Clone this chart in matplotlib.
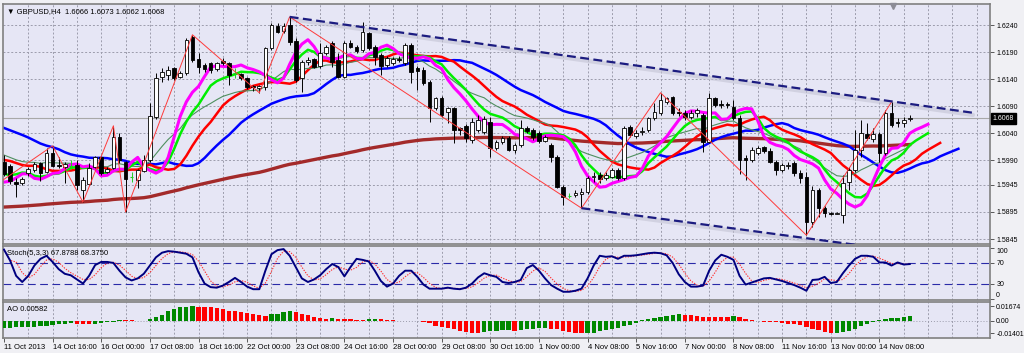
import numpy as np
import matplotlib
matplotlib.use("Agg")
import matplotlib.pyplot as plt

plt.rcParams['font.family'] = ['Liberation Sans', 'DejaVu Sans']

# GBPUSD H4 candles, 11 Oct 2013 08:00 .. 15 Nov 2013 04:00
opens = [1.5987, 1.5980, 1.5951, 1.5948, 1.5967, 1.5972, 1.5985, 1.5969, 1.6004, 1.5982,
         1.5978, 1.5980, 1.5982, 1.5935, 1.5947, 1.5978, 1.5996, 1.5969, 1.5976, 1.6033,
         1.5987, 1.5959, 1.5954, 1.5971, 1.5991, 1.6070, 1.6144, 1.6148, 1.6161, 1.6144,
         1.6151, 1.6218, 1.6177, 1.6166, 1.6170, 1.6159, 1.6174, 1.6170, 1.6151, 1.6150,
         1.6142, 1.6127, 1.6124, 1.6126, 1.6198, 1.6238, 1.6229, 1.6240, 1.6211, 1.6142,
         1.6172, 1.6177, 1.6164, 1.6188, 1.6207, 1.6175, 1.6144, 1.6207, 1.6199, 1.6194,
         1.6225, 1.6199, 1.6185, 1.6166, 1.6170, 1.6178, 1.6170, 1.6203, 1.6161, 1.6157,
         1.6135, 1.6087, 1.6105, 1.6079, 1.6087, 1.6050, 1.6054, 1.6028, 1.6046, 1.6043,
         1.6061, 1.6013, 1.6024, 1.6031, 1.6009, 1.6019, 1.6050, 1.6046, 1.6041, 1.6026,
         1.6019, 1.5996, 1.5941, 1.5925, 1.5926, 1.5929, 1.5932, 1.5959, 1.5963, 1.5958,
         1.5959, 1.5972, 1.5958, 1.6052, 1.6035, 1.6043, 1.6046, 1.6068, 1.6078, 1.6098,
         1.6107, 1.6079, 1.6078, 1.6070, 1.6078, 1.6074, 1.6024, 1.6105, 1.6094, 1.6094,
         1.6089, 1.6068, 1.5995, 1.5991, 1.6004, 1.6015, 1.6007, 1.5987, 1.5972, 1.5980,
         1.5985, 1.5967, 1.5959, 1.5876, 1.5935, 1.5902, 1.5893, 1.5892, 1.5889, 1.5950,
         1.5972, 1.6009, 1.6039, 1.6030, 1.6039, 1.6004, 1.6078, 1.6061, 1.6059, 1.6066]
highs = [1.6000, 1.5983, 1.5958, 1.5959, 1.5978, 1.5987, 1.5987, 1.6013, 1.6017, 1.5996,
         1.5987, 1.5991, 1.5991, 1.5959, 1.5985, 1.5998, 1.5998, 1.5978, 1.6054, 1.6041,
         1.5989, 1.5969, 1.5974, 1.6000, 1.6096, 1.6151, 1.6161, 1.6164, 1.6163, 1.6155,
         1.6216, 1.6222, 1.6188, 1.6170, 1.6172, 1.6172, 1.6179, 1.6172, 1.6161, 1.6151,
         1.6144, 1.6129, 1.6129, 1.6199, 1.6244, 1.6244, 1.6244, 1.6255, 1.6216, 1.6175,
         1.6181, 1.6179, 1.6207, 1.6203, 1.6211, 1.6188, 1.6211, 1.6212, 1.6203, 1.6245,
         1.6227, 1.6203, 1.6188, 1.6183, 1.6181, 1.6183, 1.6207, 1.6207, 1.6164, 1.6163,
         1.6139, 1.6107, 1.6109, 1.6089, 1.6089, 1.6052, 1.6057, 1.6068, 1.6074, 1.6072,
         1.6070, 1.6028, 1.6035, 1.6035, 1.6022, 1.6065, 1.6054, 1.6050, 1.6044, 1.6037,
         1.6022, 1.6000, 1.5945, 1.5930, 1.5935, 1.5939, 1.5961, 1.5969, 1.5969, 1.5969,
         1.5976, 1.5976, 1.6054, 1.6055, 1.6046, 1.6052, 1.6070, 1.6096, 1.6115, 1.6107,
         1.6109, 1.6087, 1.6083, 1.6083, 1.6087, 1.6078, 1.6115, 1.6107, 1.6102, 1.6098,
         1.6102, 1.6074, 1.6000, 1.6015, 1.6017, 1.6017, 1.6013, 1.5991, 1.5985, 1.5987,
         1.5989, 1.5972, 1.5969, 1.5943, 1.5939, 1.5906, 1.5895, 1.5895, 1.5963, 1.5978,
         1.6046, 1.6065, 1.6059, 1.6050, 1.6043, 1.6083, 1.6098, 1.6068, 1.6070, 1.6073]
lows = [1.5961, 1.5947, 1.5923, 1.5945, 1.5961, 1.5969, 1.5952, 1.5967, 1.5978, 1.5976,
        1.5948, 1.5976, 1.5935, 1.5913, 1.5945, 1.5976, 1.5963, 1.5967, 1.5974, 1.5985,
        1.5895, 1.5950, 1.5939, 1.5969, 1.5987, 1.6067, 1.6135, 1.6139, 1.6139, 1.6142,
        1.6148, 1.6172, 1.6151, 1.6153, 1.6151, 1.6155, 1.6166, 1.6129, 1.6142, 1.6139,
        1.6122, 1.6118, 1.6115, 1.6120, 1.6194, 1.6225, 1.6225, 1.6203, 1.6135, 1.6116,
        1.6166, 1.6161, 1.6161, 1.6185, 1.6163, 1.6142, 1.6142, 1.6198, 1.6188, 1.6190,
        1.6194, 1.6166, 1.6148, 1.6163, 1.6166, 1.6172, 1.6166, 1.6133, 1.6120, 1.6129,
        1.6061, 1.6083, 1.6070, 1.6059, 1.6022, 1.6037, 1.6024, 1.6022, 1.6043, 1.6039,
        1.5996, 1.6009, 1.6020, 1.6007, 1.6004, 1.6015, 1.6041, 1.6028, 1.6022, 1.6024,
        1.5987, 1.5939, 1.5908, 1.5921, 1.5923, 1.5902, 1.5928, 1.5950, 1.5948, 1.5954,
        1.5958, 1.5954, 1.5954, 1.6033, 1.6031, 1.6037, 1.6043, 1.6065, 1.6074, 1.6094,
        1.6074, 1.6072, 1.6065, 1.6067, 1.6070, 1.6006, 1.6022, 1.6089, 1.6087, 1.6087,
        1.6065, 1.5965, 1.5954, 1.5987, 1.6000, 1.6004, 1.5985, 1.5963, 1.5969, 1.5974,
        1.5961, 1.5948, 1.5852, 1.5867, 1.5886, 1.5886, 1.5889, 1.5891, 1.5875, 1.5935,
        1.5969, 1.5996, 1.6028, 1.6024, 1.5987, 1.6000, 1.6052, 1.6052, 1.6052, 1.6062]
closes = [1.5965, 1.5952, 1.5947, 1.5956, 1.5974, 1.5983, 1.5967, 1.6004, 1.5980, 1.5980,
          1.5983, 1.5980, 1.5945, 1.5954, 1.5976, 1.5996, 1.5967, 1.5974, 1.6033, 1.5991,
          1.5956, 1.5959, 1.5972, 1.5991, 1.6072, 1.6142, 1.6153, 1.6157, 1.6142, 1.6151,
          1.6212, 1.6175, 1.6163, 1.6159, 1.6157, 1.6170, 1.6170, 1.6148, 1.6151, 1.6142,
          1.6126, 1.6126, 1.6127, 1.6198, 1.6240, 1.6227, 1.6238, 1.6209, 1.6139, 1.6172,
          1.6175, 1.6163, 1.6188, 1.6199, 1.6172, 1.6144, 1.6207, 1.6199, 1.6192, 1.6227,
          1.6198, 1.6181, 1.6164, 1.6179, 1.6177, 1.6176, 1.6203, 1.6153, 1.6155, 1.6133,
          1.6087, 1.6105, 1.6074, 1.6087, 1.6046, 1.6046, 1.6031, 1.6061, 1.6065, 1.6067,
          1.6013, 1.6024, 1.6031, 1.6009, 1.6019, 1.6050, 1.6044, 1.6033, 1.6026, 1.6033,
          1.5996, 1.5941, 1.5923, 1.5925, 1.5930, 1.5932, 1.5958, 1.5961, 1.5956, 1.5963,
          1.5972, 1.5958, 1.6050, 1.6037, 1.6041, 1.6044, 1.6068, 1.6079, 1.6102, 1.6105,
          1.6078, 1.6078, 1.6070, 1.6078, 1.6083, 1.6024, 1.6105, 1.6092, 1.6093, 1.6092,
          1.6068, 1.5991, 1.5991, 1.6009, 1.6013, 1.6007, 1.5987, 1.5972, 1.5982, 1.5982,
          1.5967, 1.5958, 1.5876, 1.5935, 1.5902, 1.5893, 1.5892, 1.5893, 1.5948, 1.5972,
          1.6009, 1.6041, 1.6031, 1.6039, 1.6004, 1.6078, 1.6055, 1.6060, 1.6065, 1.6068]

# median prices of the 8 bars before the visible window (feed the shifted averages)
pre_median = [1.6000, 1.5995, 1.5990, 1.5985, 1.5975, 1.5960, 1.5955, 1.5970]

stoch_main = [96, 75, 45, 33, 45, 65, 78, 84, 72, 58, 49, 46, 38, 30, 45, 66, 72, 72, 70, 55,
              42, 36, 40, 49, 65, 81, 90, 93, 92, 90, 88, 81, 52, 30, 23, 22, 26, 33, 41, 33,
              24, 19, 19, 55, 87, 95, 97, 84, 62, 40, 33, 38, 46, 58, 68, 62, 44, 62, 78, 76,
              73, 55, 35, 24, 30, 45, 55, 55, 43, 28, 20, 20, 20, 22, 20, 19, 22, 30, 42, 50,
              46, 43, 33, 31, 33, 37, 60, 66, 55, 40, 27, 20, 14, 14, 16, 20, 40, 65, 84, 82,
              83, 78, 84, 84, 85, 87, 89, 90, 89, 85, 70, 48, 33, 24, 24, 26, 55, 75, 86, 82,
              76, 45, 28, 32, 36, 40, 41, 38, 35, 31, 27, 22, 16, 37, 38, 43, 31, 33, 50, 65,
              78, 84, 84, 82, 71, 71, 65, 71, 67, 67.88]

ao = [-0.0082, -0.0076, -0.0073, -0.0071, -0.0069, -0.0066, -0.0062, -0.0056, -0.0046, -0.0033,
      -0.0030, -0.0027, -0.0033, -0.0036, -0.0037, -0.0030, -0.0023, -0.0016, -0.0007, 0.0015,
      0.0013, 0.0009, 0.0005, 0.0002, 0.0020, 0.0043, 0.0069, 0.0108, 0.0134, 0.0154,
      0.0164, 0.01674, 0.0164, 0.0161, 0.0154, 0.0148, 0.0131, 0.0115, 0.0108, 0.0102,
      0.0092, 0.0075, 0.0066, 0.0062, 0.0075, 0.0085, 0.0102, 0.0115, 0.0102, 0.0082,
      0.0069, 0.0049, 0.0033, 0.0026, 0.0036, 0.0026, 0.0023, 0.0020, 0.0016, 0.0015,
      0.0023, 0.0026, 0.0023, 0.0013, 0.0007, 0.0003, 0.0004, -0.0003, -0.0004, -0.0010,
      -0.0023, -0.0056, -0.0072, -0.0082, -0.0095, -0.0108, -0.0121, -0.0131, -0.0135, -0.0121,
      -0.0115, -0.0112, -0.0105, -0.0102, -0.0108, -0.0102, -0.0095, -0.0089, -0.0082, -0.0079,
      -0.0089, -0.0095, -0.0108, -0.0121, -0.0135, -0.01401, -0.0138, -0.0131, -0.0118, -0.0105,
      -0.0092, -0.0075, -0.0062, -0.0046, -0.0020, 0.0010, 0.0023, 0.0036, 0.0049, 0.0062,
      0.0069, 0.0075, 0.0072, 0.0066, 0.0056, 0.0050, 0.0048, 0.0047, 0.0046, 0.0045,
      0.0056, 0.0049, 0.0026, 0.0010, 0.0001, -0.0010, -0.0013, -0.0016, -0.0023, -0.0030,
      -0.0039, -0.0049, -0.0072, -0.0089, -0.0105, -0.0128, -0.0138, -0.0135, -0.0121, -0.0108,
      -0.0095, -0.0062, -0.0033, -0.0007, 0.0010, 0.0020, 0.0030, 0.0036, 0.0043, 0.00582]

# zigzag turning points (bar index, price)
zz_bar = [-3, 8, 13, 18, 20, 31, 42, 47, 95, 108, 132, 146]
zz_price = [1.5932, 1.6017, 1.5913, 1.6054, 1.5895, 1.6222, 1.6115, 1.6255, 1.5902, 1.6115, 1.5852, 1.6098]

# channel lines
upper_bar = [47, 159.4]
upper_price = [1.6255, 1.6078]
lower_bar = [95, 141]
lower_price = [1.5902, 1.5833]

price_ticks = [1.6240, 1.6190, 1.6140, 1.6090, 1.6040, 1.5990, 1.5945, 1.5895, 1.5845]
date_labels = ['11 Oct 2013', '14 Oct 16:00', '16 Oct 00:00', '17 Oct 08:00', '18 Oct 16:00',
               '22 Oct 00:00', '23 Oct 08:00', '24 Oct 16:00', '28 Oct 00:00', '29 Oct 08:00',
               '30 Oct 16:00', '1 Nov 00:00', '4 Nov 08:00', '5 Nov 16:00', '7 Nov 00:00',
               '8 Nov 08:00', '11 Nov 16:00', '13 Nov 00:00', '14 Nov 08:00']
last_price = 1.6068

o = np.array(opens); h = np.array(highs); l = np.array(lows); c = np.array(closes)
n = len(c)
x = np.arange(n)


def smooth(vals, alpha, start, seed):
    out = np.full(len(vals), np.nan)
    out[start] = seed
    for j in range(start + 1, len(vals)):
        out[j] = out[j - 1] + alpha * (vals[j] - out[j - 1])
    return out


P = len(pre_median)
med_all = np.r_[pre_median, (h + l) / 2]
idx_all = np.arange(len(med_all)) - P

W, H = 1024, 353


def box(x0, y0, x1, y1):
    return [x0 / W, 1 - y1 / H, (x1 - x0) / W, (y1 - y0) / H]


fig = plt.figure(figsize=(10.24, 3.53), dpi=100, facecolor='#F0F0F4')
ax = fig.add_axes(box(3, 4, 990, 244))
ax_st = fig.add_axes(box(3, 246, 990, 300), sharex=ax)
ax_ao = fig.add_axes(box(3, 302, 990, 338), sharex=ax)

bg = '#E6E6F5'
grid_kw = dict(color='#9C9CAC', lw=0.7, ls=(0, (2, 2)), zorder=0)
for a in (ax, ax_st, ax_ao):
    a.set_facecolor(bg)
    for s in a.spines.values():
        s.set_color('#808080')
        s.set_linewidth(1.2)
    for g in range(4, 163, 4):
        a.axvline(g, **grid_kw)
    a.yaxis.tick_right()
    a.tick_params(axis='y', length=3, width=0.6, labelsize=5, pad=1.5, color='#404040')
    a.tick_params(axis='x', length=0, labelbottom=False)

# ---- main price panel
for p in price_ticks:
    ax.axhline(p, **grid_kw)
ax.axhline(last_price, color='#A8A8A8', lw=0.8, zorder=1)

# long moving average and the alligator-style shifted averages
brown = smooth(c, 0.012, 0, 1.5904)
thin = smooth(c, 2 / 22, 0, 1.6000)
jaw = smooth(med_all, 1 / 13, P - 8, 1.6050)
teeth = smooth(med_all, 1 / 8, P - 5, 1.5991)
lips = smooth(med_all, 1 / 5, P - 3, 1.5965)
fast = smooth(med_all, 1 / 3, P - 3, 1.5950)

ax.plot(x, brown, color='#A32A2A', lw=2.4, zorder=2)
ax.plot(idx_all[P - 8:] + 8, jaw[P - 8:], color='#0000FF', lw=1.8, zorder=2)
ax.plot(idx_all[P - 5:] + 5, teeth[P - 5:], color='#FF0000', lw=1.8, zorder=2)
ax.plot(x, thin, color='#4F8F5F', lw=0.8, zorder=2)
ax.plot(idx_all[P - 3:] + 3, lips[P - 3:], color='#00EE00', lw=1.8, zorder=2)
ax.plot(idx_all[P - 3:] + 3, fast[P - 3:], color='#FF00FF', lw=2.2, zorder=2)

# candles
dj = c == o
up = c > o
dn = c < o
ax.vlines(x[~dj], l[~dj], h[~dj], color='black', lw=0.7, zorder=4)
ax.bar(x[up], (c - o)[up], bottom=o[up], width=0.6, color='white', edgecolor='black', lw=0.6, zorder=5)
ax.bar(x[dn], (o - c)[dn], bottom=c[dn], width=0.6, color='black', edgecolor='black', lw=0.6, zorder=5)
ax.vlines(x[dj], l[dj], h[dj], color='#22CC22', lw=0.7, zorder=5)
ax.hlines(o[dj], x[dj] - 0.3, x[dj] + 0.3, color='#22CC22', lw=0.8, zorder=5)

# zigzag
ax.plot(zz_bar, zz_price, color='#FF3A3A', lw=0.7, zorder=6)

# channel lines with faint shadow
for bb, pp in ((upper_bar, upper_price), (lower_bar, lower_price)):
    ax.plot(bb, np.array(pp) - 0.0004, color='#C4C4D4', lw=3, alpha=0.6, zorder=1, solid_capstyle='round')
    ax.plot(bb, pp, color='#1C1C80', lw=1.6, ls=(0, (4, 2)), zorder=7)

ax.set_xlim(-0.16, 162.2)
ax.set_ylim(1.58358, 1.62788)
ax.set_yticks(price_ticks)
ax.set_yticklabels(['%.4f' % p for p in price_ticks])
ax.text(1.003, last_price, '%.4f' % last_price, transform=ax.get_yaxis_transform(),
        fontsize=5, color='white', va='center', ha='left',
        bbox=dict(boxstyle='square,pad=0.3', fc='black', ec='black'))
ax.text(0.004, 0.985, '\u25bc GBPUSD,H4  1.6066 1.6073 1.6062 1.6068', transform=ax.transAxes,
        fontsize=5.5, va='top', ha='left')
ax.plot([146.2], [0.993], marker='v', ms=5, color='#8C8C96', transform=ax.get_xaxis_transform(),
        clip_on=False, zorder=8)

# ---- stochastic panel
k = np.array(stoch_main, dtype=float)
d = np.convolve(k, np.ones(3) / 3, mode='full')[:n]
d[:2] = k[:2]
for lv in (70, 30):
    ax_st.axhline(lv, color='#2A2AA8', lw=0.8, ls=(0, (7, 4)), zorder=1)
ax_st.plot(x, d, color='#FF3030', lw=0.8, ls=(0, (1.2, 1.2)), zorder=3)
ax_st.plot(x, k, color='#000080', lw=1.4, zorder=4)
ax_st.set_ylim(-2, 103)
ax_st.set_yticks([100, 70, 30, 0])
st_labels = ax_st.get_yticklabels()
st_labels[0].set_va('top')
st_labels[-1].set_va('bottom')
ax_st.text(0.004, 0.93, 'Stoch(5,3,3) 67.8788 68.3750', transform=ax_st.transAxes,
           fontsize=5.5, va='top', ha='left')

# ---- awesome oscillator panel
aov = np.array(ao)
rising = np.r_[True, aov[1:] > aov[:-1]]
ax_ao.axhline(0, color='#9C9CAC', lw=0.7, ls=(0, (1, 2)), zorder=0)
ax_ao.bar(x, aov, width=0.7, color=np.where(rising, '#008800', '#FF0000'), zorder=3)
ax_ao.set_ylim(-0.01932, 0.02159)
ax_ao.set_yticks([0.01674, 0.0, -0.01401])
ax_ao.set_yticklabels(['0.01674', '0.00', '-0.01401'])
ax_ao.text(0.004, 0.9, 'AO 0.00582', transform=ax_ao.transAxes, fontsize=5.5, va='top', ha='left')

ax_ao.set_xticks(range(0, 8 * len(date_labels), 8))
ax_ao.set_xticklabels(date_labels, ha='left')
ax_ao.tick_params(axis='x', length=3, width=0.6, labelsize=5.5, pad=1.5, labelbottom=True,
                  color='#404040')

fig.savefig('out.png', dpi=100, facecolor=fig.get_facecolor())
